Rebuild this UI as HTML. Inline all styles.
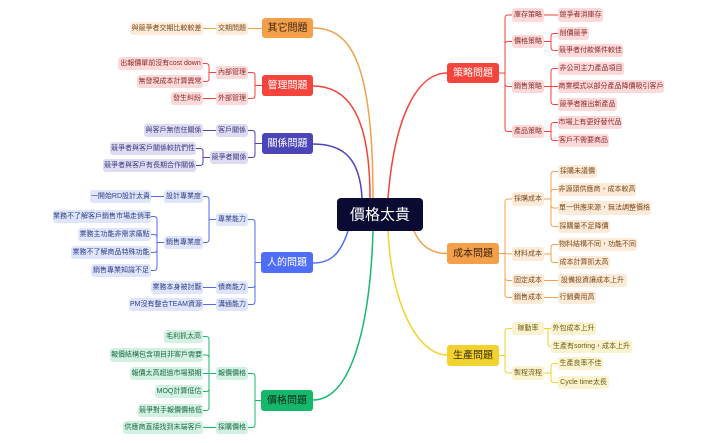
<!DOCTYPE html>
<html><head><meta charset="utf-8">
<style>
html,body{margin:0;padding:0;background:#fff;}
svg{display:block;font-family:"Liberation Sans","Noto Sans CJK TC",sans-serif;}
text{dominant-baseline:central;text-anchor:middle;}
.s{font-size:7px;}
.m{font-size:10px;}
.o rect{fill:#fdebd9}.o text{fill:#7a4a1a}
.r rect{fill:#fdd9d9}.r text{fill:#8a2a2a}
.p rect{fill:#dedcf3}.p text{fill:#3c3a7a}
.b rect{fill:#dfe5fd}.b text{fill:#2e3f80}
.g rect{fill:#d2f1e2}.g text{fill:#1d6a45}
.y rect{fill:#fbf3cf}.y text{fill:#6e5a10}
path{fill:none}
</style></head><body>
<svg width="715" height="443" viewBox="0 0 715 443">
<!-- main curves -->
<path d="M373,198 C373,60 350,28 313,28" stroke="#f4a04a" stroke-width="1.5"/>
<path d="M370,198 C370,110 345,86 313,86" stroke="#f44336" stroke-width="1.5"/>
<path d="M362,198 C360,160 345,144 313,144" stroke="#4b45b8" stroke-width="1.5"/>
<path d="M348,231 C340,255 330,263 313,263" stroke="#4f6ef7" stroke-width="1.5"/>
<path d="M373,231 C370,330 350,400 313,400" stroke="#19b96c" stroke-width="1.5"/>
<path d="M388,198 C395,110 420,73 447,73" stroke="#f44336" stroke-width="1.5"/>
<path d="M414,231 C420,245 430,253.5 447,253.5" stroke="#f4a04a" stroke-width="1.5"/>
<path d="M388,231 C392,310 420,355 447,355" stroke="#f2d22e" stroke-width="1.5"/>

<!-- connectors -->
<g stroke="#f4a04a" stroke-width="1">
<path d="M203,28.5H216M248,28.5H262"/>
<path d="M499,253.5H505M505,253.5V202Q505,199 508,199H512M505,253.5V251Q505,254 508,254H512M505,253.5V277.5Q505,280.5 508,280.5H512M505,253.5V294.5Q505,297.5 508,297.5H512"/>
<path d="M544,199H551M551,199V174.5Q551,171.5 554,171.5H558M551,199V192.5Q551,189.5 554,189.5H558M551,199V205Q551,208 554,208H558M551,199V223.5Q551,226.5 554,226.5H558"/>
<path d="M544,254H551M551,254V247.5Q551,244.5 554,244.5H558M551,254V259.5Q551,262.5 554,262.5H558M544,280.5H558M544,297.5H558"/>
</g>
<g stroke="#f44336" stroke-width="1">
<path d="M262,85.5H255M255,85.5V75.5Q255,72.5 252,72.5H248M255,85.5V95.5Q255,98.5 252,98.5H248"/>
<path d="M216,72.5H209M209,72.5V66.5Q209,63.5 206,63.5H203M209,72.5V78.5Q209,81.5 206,81.5H203M216,98.5H203"/>
<path d="M499,73H505M505,73V18Q505,15 508,15H512M505,73V44.5Q505,41.5 508,41.5H512M505,73V83.5Q505,86.5 508,86.5H512M505,73V128.5Q505,131.5 508,131.5H512"/>
<path d="M544,15H558M544,41.5H551M551,41.5V36.5Q551,33.5 554,33.5H558M551,41.5V47.5Q551,50.5 554,50.5H558"/>
<path d="M544,86.5H558M551,86.5V71.5Q551,68.5 554,68.5H558M551,86.5V101.5Q551,104.5 554,104.5H558"/>
<path d="M544,131.5H551M551,131.5V125.5Q551,122.5 554,122.5H558M551,131.5V137.5Q551,140.5 554,140.5H558"/>
</g>
<g stroke="#4b45b8" stroke-width="1">
<path d="M262,143.5H255M255,143.5V133.5Q255,130.5 252,130.5H248M255,143.5V154.5Q255,157.5 252,157.5H248"/>
<path d="M216,130.5H203M210,157.5H203M203,157.5V151.5Q203,148.5 200,148.5H196M203,157.5V162.5Q203,165.5 200,165.5H196"/>
</g>
<g stroke="#4f6ef7" stroke-width="1">
<path d="M261,262.5H255M255,262.5V222.5Q255,219.5 252,219.5H248M255,262.5V284.5Q255,287.5 252,287.5H248M255,262.5V301.5Q255,304.5 252,304.5H248"/>
<path d="M216,219.5H209M209,219.5V199.5Q209,196.5 206,196.5H203M209,219.5V239.5Q209,242.5 206,242.5H203"/>
<path d="M164,196.5H151M164,242.5H157M157,242.5V219.5Q157,216.5 154,216.5H151M157,242.5V237.5Q157,234.5 154,234.5H151M157,242.5V249.5Q157,252.5 154,252.5H151M157,242.5V267.5Q157,270.5 154,270.5H151"/>
<path d="M216,287.5H203M216,304.5H203"/>
</g>
<g stroke="#19b96c" stroke-width="1">
<path d="M261,400.5H255M255,400.5V376.5Q255,373.5 252,373.5H248M255,400.5V424.5Q255,427.5 252,427.5H248"/>
<path d="M216,373.5H209M209,373.5V339.5Q209,336.5 206,336.5H203M209,373.5V358Q209,355 206,355H203M209,373.5H203M209,373.5V388.5Q209,391.5 206,391.5H203M209,373.5V407.5Q209,410.5 206,410.5H203M216,427.5H203"/>
</g>
<g stroke="#f2d22e" stroke-width="1">
<path d="M499,355.5H505M505,355.5V331.5Q505,328.5 508,328.5H512M505,355.5V370Q505,373 508,373H512"/>
<path d="M544,328.5H548M548,328.5H551M548,328.5V343.5Q548,346.5 551,346.5"/>
<path d="M544,373H551M551,373V366.5Q551,363.5 554,363.5H558M551,373V379.5Q551,382.5 554,382.5H558"/>
</g>

<!-- center -->
<rect x="337" y="198" width="86" height="33" rx="4" fill="#0a0a33"/>
<text x="380" y="215" fill="#fff" style="font-size:15px">價格太貴</text>

<!-- main nodes -->
<rect x="262" y="18" width="51" height="20" rx="3" fill="#f4a04a"/><text class="m" x="287.5" y="28.5" fill="#3a2410">其它問題</text>
<rect x="262" y="75" width="51" height="21" rx="3" fill="#f5443b"/><text class="m" x="287.5" y="86" fill="#fff">管理問題</text>
<rect x="262" y="133" width="51" height="21" rx="3" fill="#4b45b8"/><text class="m" x="287.5" y="144" fill="#fff">關係問題</text>
<rect x="261" y="252" width="52" height="21" rx="3" fill="#4f6ef7"/><text class="m" x="287" y="263" fill="#fff">人的問題</text>
<rect x="261" y="390" width="52" height="21" rx="3" fill="#14b86a"/><text class="m" x="287" y="401" fill="#0f2a1c">價格問題</text>
<rect x="447" y="63" width="52" height="20" rx="3" fill="#f5443b"/><text class="m" x="473" y="73.5" fill="#fff">策略問題</text>
<rect x="447" y="243" width="52" height="21" rx="3" fill="#f4a04a"/><text class="m" x="473" y="254" fill="#3a2410">成本問題</text>
<rect x="447" y="345" width="52" height="21" rx="3" fill="#f2d22e"/><text class="m" x="473" y="356" fill="#3a3008">生產問題</text>

<g class="s o">
<rect x="216" y="22" width="32" height="13" rx="3"/><text x="232" y="28.5">交期問題</text>
<rect x="130" y="22" width="73" height="13" rx="3"/><text x="166.5" y="28.5">與競爭者交期比較較差</text>
<rect x="512" y="192" width="32" height="14" rx="3"/><text x="528" y="199">採購成本</text>
<rect x="512" y="247" width="32" height="14" rx="3"/><text x="528" y="254">材料成本</text>
<rect x="512" y="274" width="32" height="13" rx="3"/><text x="528" y="280.5">固定成本</text>
<rect x="512" y="291" width="32" height="13" rx="3"/><text x="528" y="297.5">銷售成本</text>
<rect x="558" y="165" width="39" height="13" rx="3"/><text x="577.5" y="171.5">採購未議價</text>
<rect x="558" y="183" width="78" height="13" rx="3"/><text x="597" y="189.5">非源頭供應商，成本較高</text>
<rect x="558" y="201" width="93" height="14" rx="3"/><text x="604.5" y="208">單一供應來源，無法調整價格</text>
<rect x="558" y="220" width="52" height="13" rx="3"/><text x="584" y="226.5">採購量不足降價</text>
<rect x="558" y="238" width="79" height="13" rx="3"/><text x="597.5" y="244.5">物料結構不同，功能不同</text>
<rect x="558" y="256" width="52" height="13" rx="3"/><text x="584" y="262.5">成本計算抓太高</text>
<rect x="558" y="274" width="69" height="13" rx="3"/><text x="592.5" y="280.5">設備投資讓成本上升</text>
<rect x="558" y="291" width="38" height="13" rx="3"/><text x="577" y="297.5">行銷費用高</text>
</g>
<g class="s r">
<rect x="216" y="66" width="32" height="13" rx="3"/><text x="232" y="72.5">內部管理</text>
<rect x="216" y="92" width="32" height="13" rx="3"/><text x="232" y="98.5">外部管理</text>
<rect x="118" y="57" width="85" height="13" rx="3"/><text x="160.5" y="63.5">出報價單前沒有cost down</text>
<rect x="137" y="75" width="66" height="13" rx="3"/><text x="170" y="81.5">無發現成本計算異常</text>
<rect x="171" y="92" width="32" height="13" rx="3"/><text x="187" y="98.5">發生糾紛</text>
<rect x="512" y="8" width="32" height="14" rx="3"/><text x="528" y="15">庫存策略</text>
<rect x="512" y="35" width="32" height="13" rx="3"/><text x="528" y="41.5">價格策略</text>
<rect x="512" y="80" width="32" height="13" rx="3"/><text x="528" y="86.5">銷售策略</text>
<rect x="512" y="125" width="32" height="13" rx="3"/><text x="528" y="131.5">產品策略</text>
<rect x="558" y="8" width="45" height="14" rx="3"/><text x="580.5" y="15">競爭者消庫存</text>
<rect x="558" y="27" width="31" height="13" rx="3"/><text x="573.5" y="33.5">削價競爭</text>
<rect x="558" y="44" width="65" height="13" rx="3"/><text x="590.5" y="50.5">競爭者付款條件較佳</text>
<rect x="558" y="62" width="66" height="13" rx="3"/><text x="591" y="68.5">非公司主力產品項目</text>
<rect x="558" y="80" width="106" height="13" rx="3"/><text x="611" y="86.5">商業模式以部分產品降價吸引客戶</text>
<rect x="558" y="98" width="59" height="13" rx="3"/><text x="587.5" y="104.5">競爭者推出新產品</text>
<rect x="558" y="116" width="64" height="13" rx="3"/><text x="590" y="122.5">市場上有更好替代品</text>
<rect x="558" y="134" width="51" height="13" rx="3"/><text x="583.5" y="140.5">客戶不需要商品</text>
</g>
<g class="s p">
<rect x="216" y="124" width="32" height="13" rx="3"/><text x="232" y="130.5">客戶關係</text>
<rect x="210" y="151" width="38" height="13" rx="3"/><text x="229" y="157.5">競爭者關係</text>
<rect x="144" y="124" width="59" height="13" rx="3"/><text x="173.5" y="130.5">與客戶無信任關係</text>
<rect x="110" y="142" width="86" height="13" rx="3"/><text x="153" y="148.5">競爭者與客戶關係較抗們性</text>
<rect x="103" y="159" width="93" height="13" rx="3"/><text x="149.5" y="165.5">競爭者與客戶有長期合作關係</text>
</g>
<g class="s b">
<rect x="216" y="213" width="32" height="13" rx="3"/><text x="232" y="219.5">專業能力</text>
<rect x="216" y="281" width="32" height="13" rx="3"/><text x="232" y="287.5">債商能力</text>
<rect x="216" y="298" width="32" height="13" rx="3"/><text x="232" y="304.5">溝通能力</text>
<rect x="164" y="190" width="39" height="13" rx="3"/><text x="183.5" y="196.5">設計專業度</text>
<rect x="164" y="236" width="39" height="13" rx="3"/><text x="183.5" y="242.5">銷售專業度</text>
<rect x="90" y="190" width="61" height="13" rx="3"/><text x="120.5" y="196.5">一開始RD設計太貴</text>
<rect x="53" y="210" width="98" height="13" rx="3"/><text x="102" y="216.5">業務不了解客戶銷售市場走俏率</text>
<rect x="78" y="228" width="73" height="13" rx="3"/><text x="114.5" y="234.5">業務主功能非需求痛點</text>
<rect x="71" y="246" width="80" height="13" rx="3"/><text x="111" y="252.5">業務不了解商品特殊功能</text>
<rect x="91" y="264" width="60" height="13" rx="3"/><text x="121" y="270.5">銷售專業知識不足</text>
<rect x="151" y="281" width="52" height="13" rx="3"/><text x="177" y="287.5">業務本身被討厭</text>
<rect x="129" y="298" width="74" height="13" rx="3"/><text x="166" y="304.5">PM沒有整合TEAM資源</text>
</g>
<g class="s g">
<rect x="216" y="367" width="32" height="13" rx="3"/><text x="232" y="373.5">報價價格</text>
<rect x="216" y="421" width="32" height="13" rx="3"/><text x="232" y="427.5">採購價格</text>
<rect x="164" y="330" width="39" height="13" rx="3"/><text x="183.5" y="336.5">毛利抓太高</text>
<rect x="110" y="348" width="93" height="14" rx="3"/><text x="156.5" y="355">報價結構包含項目非客戶需要</text>
<rect x="130" y="367" width="73" height="13" rx="3"/><text x="166.5" y="373.5">報價太高超過市場預期</text>
<rect x="155" y="385" width="48" height="13" rx="3"/><text x="179" y="391.5">MOQ計算低估</text>
<rect x="138" y="404" width="65" height="13" rx="3"/><text x="170.5" y="410.5">競爭對手報價價格低</text>
<rect x="123" y="421" width="80" height="13" rx="3"/><text x="163" y="427.5">供應商直接找到末端客戶</text>
</g>
<g class="s y">
<rect x="512" y="322" width="32" height="13" rx="3"/><text x="528" y="328.5">稼動率</text>
<rect x="512" y="366" width="32" height="14" rx="3"/><text x="528" y="373">製程流程</text>
<rect x="551" y="322" width="45" height="13" rx="3"/><text x="573.5" y="328.5">外包成本上升</text>
<rect x="551" y="340" width="81" height="13" rx="3"/><text x="591.5" y="346.5">生產有sorting，成本上升</text>
<rect x="558" y="357" width="45" height="13" rx="3"/><text x="580.5" y="363.5">生產良率不佳</text>
<rect x="558" y="376" width="51" height="13" rx="3"/><text x="583.5" y="382.5">Cycle time太長</text>
</g>
</svg>
</body></html>
